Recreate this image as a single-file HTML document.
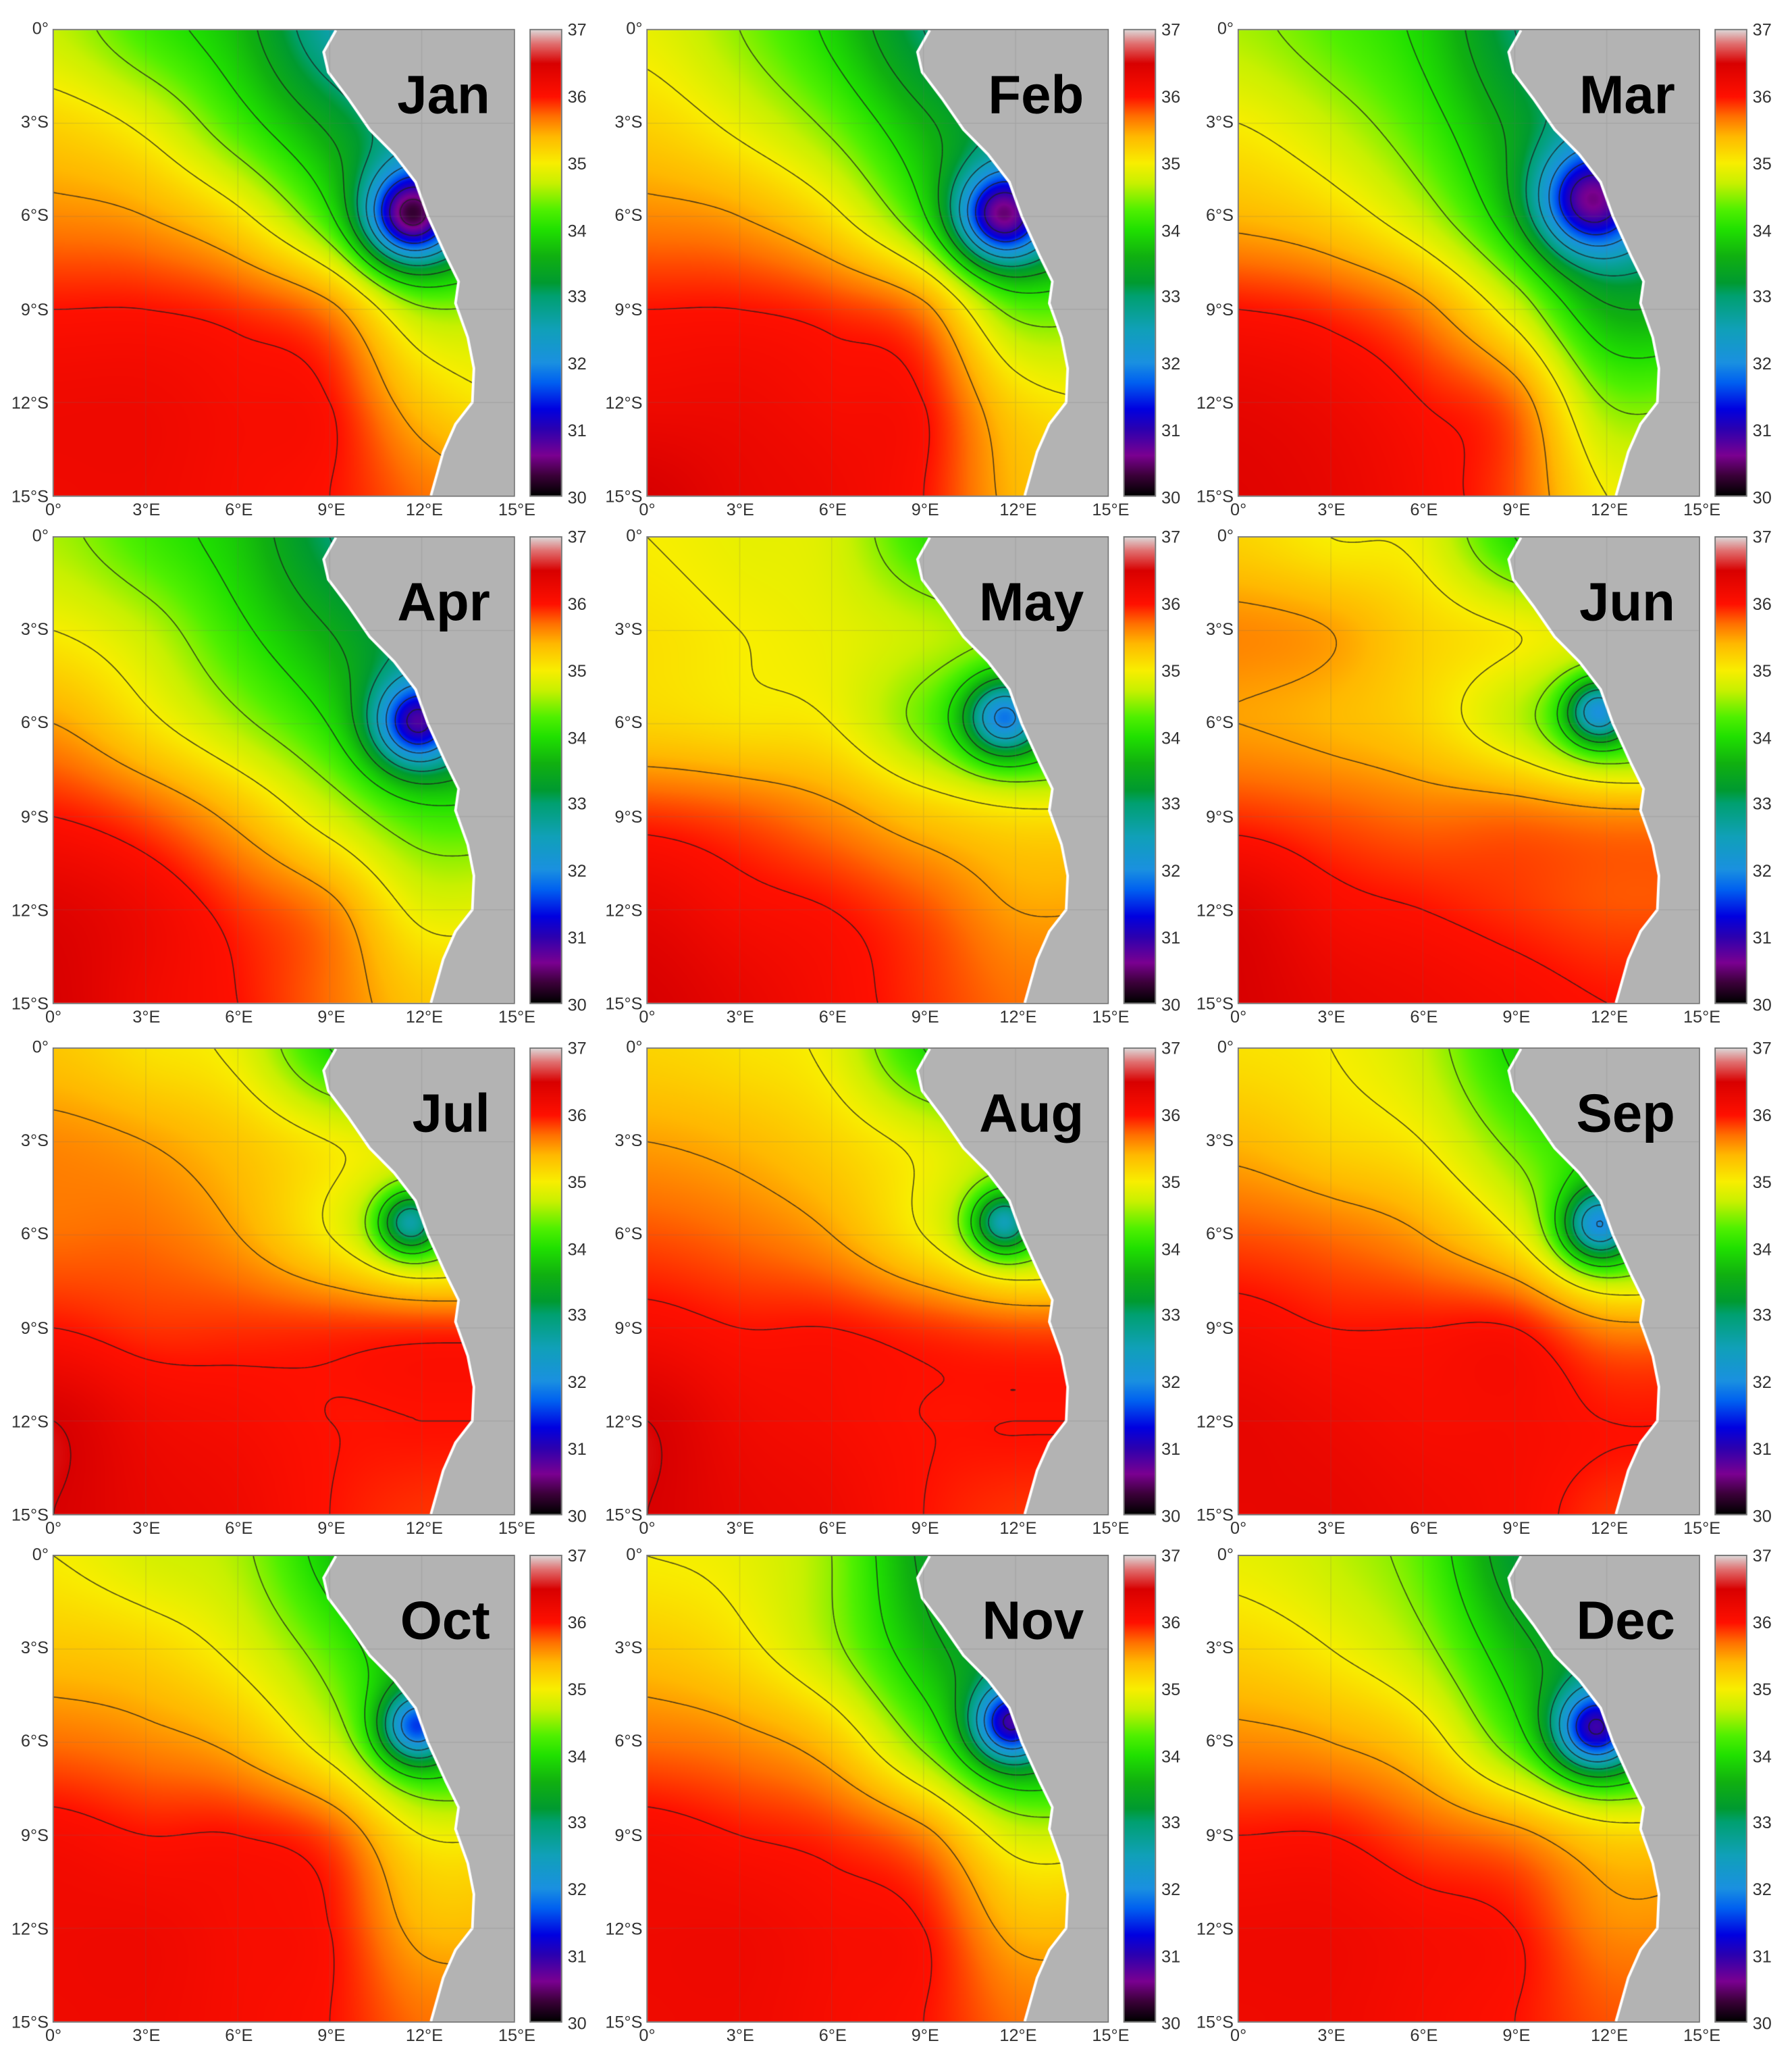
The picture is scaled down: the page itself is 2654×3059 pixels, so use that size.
<!DOCTYPE html>
<html><head><meta charset="utf-8">
<style>
html,body{margin:0;padding:0;background:#fff;}
body{width:2654px;height:3059px;overflow:hidden;position:relative;}
#wrap{position:absolute;left:0;top:0;width:1364px;height:1572px;transform:scale(1.94575,1.94593);transform-origin:0 0;font-family:"Liberation Sans",Arial,sans-serif;}
.panel{position:absolute;}
.map{position:absolute;width:352px;height:356px;border:1px solid #777;box-sizing:border-box;}
.map canvas{width:100%;height:100%;display:block;}
.cb{position:absolute;width:25px;height:356px;border:1px solid #777;box-sizing:border-box;}
.tick{position:absolute;font-size:13px;color:#333;white-space:nowrap;line-height:13px;}
.month{position:absolute;font-weight:bold;font-size:41px;color:#000;line-height:41px;}
</style></head>
<body>
<div id="wrap"></div>
<script>
// ---- data ----
const months = ["Jan","Feb","Mar","Apr","May","Jun","Jul","Aug","Sep","Oct","Nov","Dec"];
const lonTicks = ["0°","3°E","6°E","9°E","12°E","15°E"];
const latTicks = ["0°","3°S","6°S","9°S","12°S","15°S"];
const cbTicks = [37,36,35,34,33,32,31,30];
const gridLon = [0,3,6,9,12,15];
const gridLat = [0,-3,-6,-9,-12,-15];
const salJan = [[34.7,34.2,33.7,32.6,31.8,31.8],[35.2,34.9,34.2,33.4,32.6,32.6],[35.6,35.5,35.1,34.2,33.0,33.0],[36.0,36.0,35.9,35.6,34.6,34.6],[36.2,36.2,36.1,36.0,35.3,35.0],[36.2,36.2,36.1,36.0,35.7,35.5]];
const salFeb = [[34.9,34.5,33.9,33.0,32.4,32.4],[35.2,34.9,34.4,33.6,32.9,32.9],[35.6,35.5,35.1,34.2,33.0,33.0],[36.0,36.0,35.9,35.6,34.4,34.4],[36.2,36.2,36.1,36.0,35.2,35.0],[36.5,36.3,36.2,36.0,35.4,35.3]];
const salMar = [[34.6,34.3,33.9,33.0,32.4,32.4],[35.0,34.7,34.2,33.4,32.7,32.7],[35.4,35.2,34.7,33.8,32.8,32.8],[36.0,35.9,35.6,34.8,33.6,33.6],[36.3,36.2,36.0,35.7,34.5,34.5],[36.4,36.3,36.1,35.8,35.0,35.0]];
const salApr = [[34.6,34.2,33.8,33.0,32.5,32.5],[35.0,34.7,34.1,33.5,32.9,32.9],[35.5,35.1,34.6,34.0,33.0,33.0],[36.0,35.8,35.4,34.8,34.2,34.2],[36.4,36.2,35.9,35.6,34.9,34.9],[36.5,36.2,36.0,35.7,35.3,35.3]];
const salMay = [[35.0,34.9,34.8,34.1,33.6,33.6],[35.1,35.0,34.9,34.7,34.5,34.5],[35.2,35.1,35.0,34.4,33.8,33.8],[35.9,35.8,35.6,35.3,35.1,35.1],[36.3,36.1,36.0,35.8,35.5,35.5],[36.5,36.3,36.1,35.9,35.7,35.7]];
const salJun = [[35.2,35.0,34.9,34.0,33.4,33.4],[35.6,35.5,35.2,35.0,34.8,34.8],[35.5,35.4,35.2,34.7,34.0,34.0],[35.9,35.8,35.7,35.7,35.6,35.6],[36.4,36.1,36.0,35.9,35.8,35.8],[36.5,36.3,36.2,36.1,36.0,36.0]];
const salJul = [[35.3,35.1,34.9,34.0,33.5,33.5],[35.6,35.5,35.3,35.0,34.8,34.8],[35.7,35.7,35.5,35.0,34.4,34.4],[36.0,35.9,35.9,35.9,35.9,35.9],[36.5,36.2,36.1,36.0,36.0,36.0],[36.5,36.3,36.2,36.0,35.9,35.9]];
const salAug = [[35.2,35.1,34.9,34.0,33.5,33.5],[35.5,35.4,35.2,34.9,34.6,34.6],[35.8,35.7,35.5,35.0,34.4,34.4],[36.1,36.0,36.0,35.9,35.8,35.8],[36.5,36.2,36.1,36.0,36.0,36.0],[36.5,36.3,36.2,36.0,35.9,35.9]];
const salSep = [[35.1,35.0,34.7,33.9,33.4,33.4],[35.4,35.2,35.0,34.4,33.9,33.9],[35.8,35.7,35.5,35.0,34.0,34.0],[36.1,36.0,36.0,36.0,35.6,35.6],[36.3,36.2,36.1,36.1,36.0,36.0],[36.3,36.3,36.2,36.1,35.9,35.9]];
const salOct = [[35.0,34.8,34.6,33.8,33.0,33.0],[35.3,35.2,34.9,34.3,33.5,33.5],[35.7,35.6,35.4,34.8,33.8,33.8],[36.1,36.0,36.0,35.8,35.0,35.0],[36.2,36.2,36.1,36.0,35.4,35.4],[36.2,36.2,36.1,36.0,35.7,35.7]];
const salNov = [[35.0,34.9,34.5,33.4,32.6,32.6],[35.3,35.1,34.6,33.7,33.0,33.0],[35.7,35.6,35.3,34.4,33.4,33.4],[36.1,36.0,35.9,35.6,34.8,34.8],[36.2,36.2,36.1,36.0,35.4,35.4],[36.2,36.2,36.1,36.0,35.7,35.7]];
const salDec = [[34.9,34.7,34.3,33.2,32.4,32.4],[35.2,35.0,34.6,33.7,33.0,33.0],[35.6,35.5,35.2,34.3,33.6,33.6],[36.0,36.0,35.8,35.6,35.2,35.2],[36.2,36.2,36.1,36.0,35.6,35.6],[36.2,36.2,36.1,36.0,35.8,35.8]];
const plumeLon = [11.6,11.5,11.4,11.8,11.6,11.7,11.6,11.6,11.7,11.8,11.8,11.6];
const plumeLat = [-6.0,-6.0,-5.5,-6.0,-5.8,-5.6,-5.6,-5.6,-5.7,-5.5,-5.4,-5.6];
const plumeDepth = [2.8,2.6,2.3,2.2,2.0,2.0,1.8,1.9,2.0,2.2,2.4,2.6];
const plumeWidth = [1.05,1.05,1.2,0.95,0.85,0.7,0.7,0.7,0.8,0.8,0.85,0.95];
const grids = [salJan,salFeb,salMar,salApr,salMay,salJun,salJul,salAug,salSep,salOct,salNov,salDec];
const coast = [[9.2,0],[8.8,-0.7],[8.95,-1.35],[9.6,-2.2],[10.3,-3.2],[11.1,-4.0],[11.8,-4.9],[12.2,-6.0],[12.8,-7.3],[13.2,-8.1],[13.1,-8.8],[13.5,-9.9],[13.7,-10.9],[13.65,-12],[13.1,-12.7],[12.7,-13.6],[12.3,-15]];
const cmapV = [30,30.3,30.6,31,31.3,31.7,32,32.5,33,33.2,33.6,34,34.3,34.7,35,35.4,35.7,36,36.5,36.8,37];
const cmapC = ["#000000","#3a0038","#7a0090","#2a00b0","#0000e0","#0060f0","#1a90e0","#10a0b8","#00a070","#009a30","#10b010","#20e000","#50f000","#c8f000","#f8ee00","#ffb800","#ff7000","#ff1000","#d80000","#e07070","#dcd4d4"];
const levels = [30.5,31,31.5,32,32.5,33,33.5,34,34.5,35,35.5,36,36.5];

// ---- layout ----
const colLeft = [40,492,942];
const rowTop = [22,408,797,1183];
const MW = 352, MH = 356;

function hex(c){return [parseInt(c.slice(1,3),16),parseInt(c.slice(3,5),16),parseInt(c.slice(5,7),16)];}
const cmapRGB = cmapC.map(hex);
function color(v){
  if(v<=cmapV[0]) return cmapRGB[0];
  const n=cmapV.length;
  if(v>=cmapV[n-1]) return cmapRGB[n-1];
  for(let i=0;i<n-1;i++){
    if(v<=cmapV[i+1]){const t=(v-cmapV[i])/(cmapV[i+1]-cmapV[i]);const a=cmapRGB[i],b=cmapRGB[i+1];
      return [a[0]+(b[0]-a[0])*t,a[1]+(b[1]-a[1])*t,a[2]+(b[2]-a[2])*t];}
  }
}
function cr(p0,p1,p2,p3,t){return 0.5*((2*p1)+(-p0+p2)*t+(2*p0-5*p1+4*p2-p3)*t*t+(-p0+3*p1-3*p2+p3)*t*t*t);}
function field(m,lon,lat){
  const g=grids[m];
  const fx=(lon-gridLon[0])/3, fy=(gridLat[0]-lat)/3;
  const i=Math.min(4,Math.max(0,Math.floor(fx))), j=Math.min(4,Math.max(0,Math.floor(fy)));
  const tx=Math.min(1,Math.max(0,fx-i)), ty=Math.min(1,Math.max(0,fy-j));
  const c=k=>Math.min(5,Math.max(0,k));
  const rows=[];
  for(let r=-1;r<=2;r++){const row=g[c(j+r)];rows.push(cr(row[c(i-1)],row[c(i)],row[c(i+1)],row[c(i+2)],tx));}
  const v=cr(rows[0],rows[1],rows[2],rows[3],ty);
  const dx=lon-plumeLon[m], dy=lat-plumeLat[m], s=plumeWidth[m];
  return v-plumeDepth[m]*Math.exp(-(dx*dx+dy*dy)/(2*s*s));
}
const xS=(lon,W)=>lon/15*W;
const yS=(lat,H)=>-lat/15*H;

const wrap=document.getElementById('wrap');
function mk(tag,cls,parent){const e=document.createElement(tag);if(cls)e.className=cls;parent.appendChild(e);return e;}

months.forEach((name,m)=>{
  const L=colLeft[m%3], T=rowTop[Math.floor(m/3)];
  const map=mk('div','map',wrap);
  map.style.left=L+'px';map.style.top=T+'px';
  
  
  const cv=mk('canvas',null,map);
  const W=704,H=712;cv.width=W;cv.height=H;
  
  
  const ctx=cv.getContext('2d');
  const img=ctx.createImageData(W,H);
  for(let y=0;y<H;y++){const lat=-(y+0.5)/H*15;
    for(let x=0;x<W;x++){const lon=(x+0.5)/W*15;const c=color(field(m,lon,lat));const k=(y*W+x)*4;
      img.data[k]=c[0];img.data[k+1]=c[1];img.data[k+2]=c[2];img.data[k+3]=255;}}
  ctx.putImageData(img,0,0);
  // contours (marching squares)
  const N=150, st=15/N, vals=[];
  for(let j=0;j<=N;j++){const r=[];for(let i=0;i<=N;i++)r.push(field(m,i*st,-j*st));vals.push(r);}
  ctx.strokeStyle='rgba(30,30,30,0.8)';ctx.lineWidth=1.6;ctx.beginPath();
  const px=i=>i*st/15*W, py=j=>j*st/15*H;
  levels.forEach(lv=>{
    for(let j=0;j<N;j++)for(let i=0;i<N;i++){
      const a=vals[j][i],b=vals[j][i+1],c=vals[j+1][i+1],d=vals[j+1][i];
      const pts=[];
      if((a<lv)!==(b<lv))pts.push([px(i+(lv-a)/(b-a)),py(j)]);
      if((b<lv)!==(c<lv))pts.push([px(i+1),py(j+(lv-b)/(c-b))]);
      if((d<lv)!==(c<lv))pts.push([px(i+(lv-d)/(c-d)),py(j+1)]);
      if((a<lv)!==(d<lv))pts.push([px(i),py(j+(lv-a)/(d-a))]);
      if(pts.length>=2){ctx.moveTo(pts[0][0],pts[0][1]);ctx.lineTo(pts[1][0],pts[1][1]);}
      if(pts.length===4){ctx.moveTo(pts[2][0],pts[2][1]);ctx.lineTo(pts[3][0],pts[3][1]);}
    }
  });
  ctx.stroke();
  // land
  ctx.beginPath();
  coast.forEach((p,k)=>{const X=xS(p[0],W),Y=yS(p[1],H);if(k)ctx.lineTo(X,Y);else ctx.moveTo(X,Y);});
  ctx.lineTo(W,H);ctx.lineTo(W,0);ctx.closePath();
  ctx.fillStyle='#b3b3b3';ctx.fill();
  ctx.beginPath();
  coast.forEach((p,k)=>{const X=xS(p[0],W),Y=yS(p[1],H);if(k)ctx.lineTo(X,Y);else ctx.moveTo(X,Y);});
  ctx.strokeStyle='#ffffff';ctx.lineWidth=4;ctx.stroke();
  // grid lines
  ctx.strokeStyle='rgba(110,110,110,0.22)';ctx.lineWidth=1.2;ctx.beginPath();
  for(let k=1;k<5;k++){const X=xS(k*3,W),Y=yS(-k*3,H);ctx.moveTo(X,0);ctx.lineTo(X,H);ctx.moveTo(0,Y);ctx.lineTo(W,Y);}
  ctx.stroke();
  // month label
  const ml=mk('div','month',wrap);
  ml.textContent=name;
  ml.style.right=(1364-(L+333))+'px';ml.style.top=(T+30)+'px';
  
  
  // axis ticks
  latTicks.forEach((t,k)=>{
    const e=mk('div','tick',wrap);e.textContent=t;
    e.style.right=(1364-L+3)+'px';e.style.top=(T+k*MH/5-7)+'px';
    
    
  });
  lonTicks.forEach((t,k)=>{
    const e=mk('div','tick',wrap);e.textContent=t;
    e.style.left=(L+k*MW/5)+'px';e.style.top=(T+MH+3)+'px';e.style.transform='translateX(-45%)';
    
    
  });
  // colorbar
  const cb=mk('div','cb',wrap);
  const CL=L+363;
  cb.style.left=CL+'px';cb.style.top=T+'px';
  cb.style.background='linear-gradient(to top,'+cmapV.map((v,k)=>cmapC[k]+' '+((v-30)/7*100).toFixed(2)+'%').join(',')+')';
  
  
  cbTicks.forEach(v=>{
    const e=mk('div','tick',wrap);e.textContent=v;
    e.style.left=(CL+29)+'px';e.style.top=(T+(37-v)/7*MH-6)+'px';
    
    
  });
});
</script>
</body></html>
